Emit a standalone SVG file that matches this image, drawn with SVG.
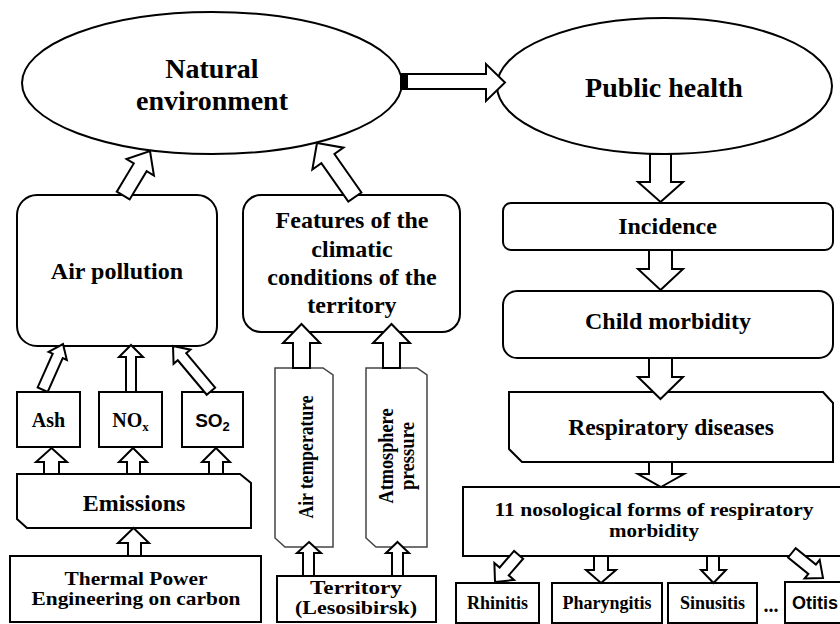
<svg xmlns="http://www.w3.org/2000/svg" width="840" height="624" viewBox="0 0 840 624">
<style>
.n{fill:#fff;stroke:#000;stroke-width:2}
.g{fill:#fff;stroke:#444;stroke-width:1.5}
.ar{fill:#fff;stroke:#000;stroke-width:2;stroke-linejoin:miter}
.t{font-family:"Liberation Serif","Times New Roman",serif;font-weight:bold;fill:#000;text-anchor:middle}
.s{font-family:"Liberation Sans",Arial,sans-serif;font-weight:bold;fill:#000;text-anchor:middle}
</style>
<rect width="840" height="624" fill="#fff"/>

<g id="natural-environment">
<ellipse class="n" cx="212" cy="83" rx="190" ry="71"/>
<text class="t" x="212" y="78" font-size="28">Natural</text>
<text class="t" x="212" y="110" font-size="28">environment</text>
</g>

<g id="public-health">
<ellipse class="n" cx="664.5" cy="86" rx="167.5" ry="68"/>
<text class="t" x="664" y="97" font-size="28">Public health</text>
</g>

<g id="air-pollution">
<rect class="n" x="17" y="195" width="200" height="151" rx="20"/>
<text class="t" x="117" y="279" font-size="24">Air pollution</text>
</g>

<g id="climatic-features">
<rect class="n" x="243" y="195" width="217" height="137" rx="18"/>
<text class="t" x="352" y="228" font-size="24">Features of the</text>
<text class="t" x="352" y="257" font-size="24">climatic</text>
<text class="t" x="352" y="285" font-size="24">conditions of the</text>
<text class="t" x="352" y="313" font-size="24">territory</text>
</g>

<g id="ash">
<rect class="n" x="17" y="392" width="63" height="55"/>
<text class="t" x="48.5" y="427" font-size="20">Ash</text>
</g>
<g id="nox">
<rect class="n" x="99" y="392" width="63" height="55"/>
<text class="t" x="130.5" y="427" font-size="20">NO<tspan font-size="13" dy="4">x</tspan></text>
</g>
<g id="so2">
<rect class="n" x="182" y="392" width="61" height="55"/>
<text class="s" x="212.5" y="427" font-size="19">SO<tspan font-size="13" dy="4">2</tspan></text>
</g>

<g id="emissions">
<polygon class="n" points="17,474 240,474 251,483 251,528 27,528 17,519"/>
<text class="t" x="134" y="511" font-size="24">Emissions</text>
</g>

<g id="thermal-power">
<rect class="n" x="10" y="556" width="251" height="66"/>
<text class="t" x="136" y="585" font-size="19" textLength="143" lengthAdjust="spacingAndGlyphs">Thermal Power</text>
<text class="t" x="136" y="605" font-size="19" textLength="209" lengthAdjust="spacingAndGlyphs">Engineering on carbon</text>
</g>

<g id="air-temperature">
<polygon class="g" points="275,368 323,368 333,375 333,547 285,547 275,538"/>
<text class="t" transform="translate(313,457) rotate(-90)" x="0" y="0" font-size="21" textLength="123" lengthAdjust="spacingAndGlyphs">Air temperature</text>
</g>

<g id="atmosphere-pressure">
<polygon class="g" points="366,368 417,368 427,375 427,547 376,547 366,538"/>
<text class="t" transform="translate(393,456) rotate(-90)" x="0" y="0" font-size="21" textLength="95" lengthAdjust="spacingAndGlyphs">Atmosphere</text>
<text class="t" transform="translate(414,456) rotate(-90)" x="0" y="0" font-size="21" textLength="68" lengthAdjust="spacingAndGlyphs">pressure</text>
</g>

<g id="territory">
<rect class="n" x="277" y="576" width="159" height="46"/>
<text class="t" x="356" y="594" font-size="19" textLength="92" lengthAdjust="spacingAndGlyphs">Territory</text>
<text class="t" x="356" y="614" font-size="19" textLength="122" lengthAdjust="spacingAndGlyphs">(Lesosibirsk)</text>
</g>

<g id="incidence">
<rect class="n" x="503" y="203" width="330" height="47" rx="8"/>
<text class="t" x="667.5" y="234" font-size="24">Incidence</text>
</g>

<g id="child-morbidity">
<rect class="n" x="503" y="291" width="330" height="67" rx="14"/>
<text class="t" x="668" y="329" font-size="24">Child morbidity</text>
</g>

<g id="respiratory-diseases">
<polygon class="n" points="509,392 823,392 833,403 833,462 522,462 509,449"/>
<text class="t" x="671" y="435" font-size="23.5">Respiratory diseases</text>
</g>

<g id="nosological-forms">
<rect class="n" x="463" y="487" width="390" height="69"/>
<text class="t" x="654" y="516" font-size="19" textLength="319" lengthAdjust="spacingAndGlyphs">11 nosological forms of respiratory</text>
<text class="t" x="654" y="537" font-size="19" textLength="90" lengthAdjust="spacingAndGlyphs">morbidity</text>
</g>

<g id="rhinitis">
<rect class="n" x="456" y="583" width="83" height="40"/>
<text class="t" x="497.5" y="609" font-size="18">Rhinitis</text>
</g>
<g id="pharyngitis">
<rect class="n" x="552" y="583" width="110" height="40"/>
<text class="t" x="607" y="609" font-size="18">Pharyngitis</text>
</g>
<g id="sinusitis">
<rect class="n" x="668" y="583" width="89" height="40"/>
<text class="t" x="712.5" y="609" font-size="18">Sinusitis</text>
</g>
<g id="ellipsis">
<text class="t" x="771" y="612" font-size="20">...</text>
</g>
<g id="otitis">
<rect class="n" x="785" y="582" width="70" height="41"/>
<text class="s" x="815" y="609" font-size="18">Otitis</text>
</g>

<g id="connectors">
<polygon class="ar" points="401,74 486,74 486,64 505,82.5 486,101 486,89 401,89"/>
<rect x="401" y="74" width="7" height="15" fill="#000"/>
<polygon class="ar" transform="translate(150,151) rotate(31)" points="0,0 16,19 7.5,19 7.5,52 -7.5,52 -7.5,19 -16,19"/>
<polygon class="ar" transform="translate(317,143) rotate(-35)" points="0,0 19,19 8,19 8,66 -8,66 -8,19 -19,19"/>
<polygon class="ar" transform="translate(63,344) rotate(24)" points="0,0 10,13 5.5,13 5.5,50 -5.5,50 -5.5,13 -10,13"/>
<polygon class="ar" points="131,345 143,357 136,357 136,392 126,392 126,357 119,357"/>
<polygon class="ar" transform="translate(173,346) rotate(-40)" points="0,0 11,14 5.5,14 5.5,59 -5.5,59 -5.5,14 -11,14"/>
<polygon class="ar" points="51.5,448 67,462 59,462 59,474 44,474 44,462 36,462"/>
<polygon class="ar" points="133,448 147,462 140,462 140,474 127,474 127,462 119,462"/>
<polygon class="ar" points="216,448 230,462 223,462 223,474 209,474 209,462 202,462"/>
<polygon class="ar" points="133.5,528 149,543 141,543 141,556 128,556 128,543 118,543"/>
<polygon class="ar" points="301.5,324 320,343 310,343 310,368 293,368 293,343 283,343"/>
<polygon class="ar" points="391.5,324 410,343 400,343 400,368 383,368 383,343 373,343"/>
<polygon class="ar" points="309,542 321,553 314,553 314,576 303,576 303,553 297,553"/>
<polygon class="ar" points="397.5,542 409,553 403,553 403,576 392,576 392,553 386,553"/>
<polygon class="ar" points="660.5,202 683,182 671,182 671,154 650,154 650,182 638,182"/>
<polygon class="ar" points="660.5,290 683,269 672,269 672,250 649,250 649,269 638,269"/>
<polygon class="ar" points="660.5,399 683,377 672,377 672,358 649,358 649,377 638,377"/>
<polygon class="ar" points="661,487 684,474 672,474 672,462 649,462 649,474 638,474"/>
<polygon class="ar" transform="translate(495,582) rotate(-139)" points="0,0 13,14 6,14 6,36 -6,36 -6,14 -13,14"/>
<polygon class="ar" points="601,583 616,570 608,570 608,556 594,556 594,570 586,570"/>
<polygon class="ar" points="713.5,583 726,570 719,570 719,556 707,556 707,570 701,570"/>
<polygon class="ar" transform="translate(823,578) rotate(129)" points="0,0 12,14 6,14 6,40 -6,40 -6,14 -12,14"/>
</g>
</svg>
